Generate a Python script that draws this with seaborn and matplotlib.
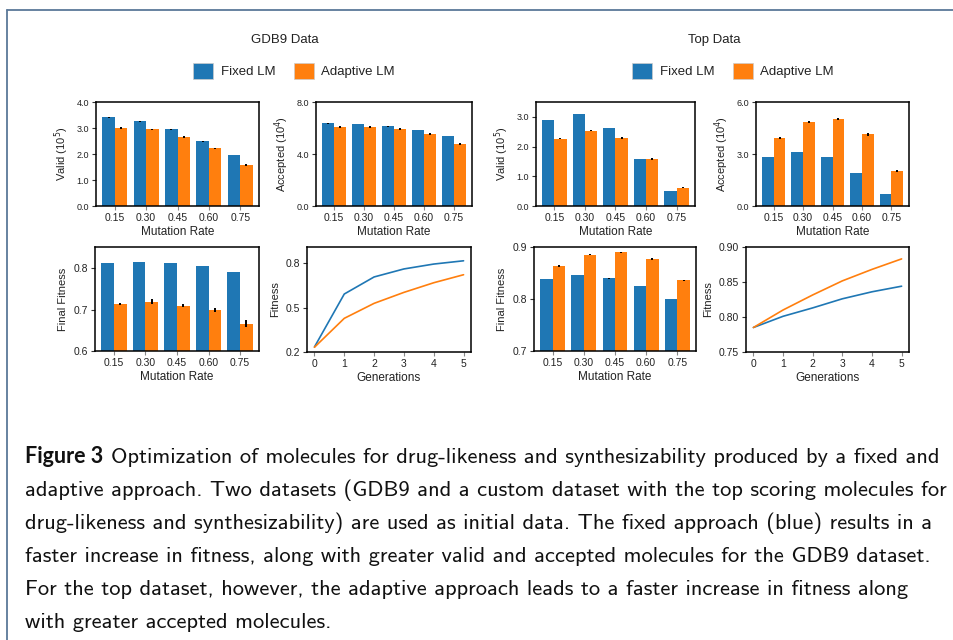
import numpy as np
import pandas as pd
import matplotlib
matplotlib.use("Agg")
import matplotlib.pyplot as plt
import seaborn as sns
from matplotlib.patches import Patch
from matplotlib.lines import Line2D
from matplotlib.ticker import FormatStrFormatter

# ---------------- data ----------------
rates = ["0.15", "0.30", "0.45", "0.60", "0.75"]
models = ["Fixed LM", "Adaptive LM"]
generations = [0, 1, 2, 3, 4, 5]

# GDB9 data
gdb9_valid_fixed = [3.41, 3.26, 2.95, 2.49, 1.955]
gdb9_valid_adapt = [2.99, 2.95, 2.645, 2.22, 1.57]
gdb9_valid_fixed_err = [0.01, 0.01, 0.01, 0.01, 0.01]
gdb9_valid_adapt_err = [0.04, 0.03, 0.03, 0.03, 0.05]

gdb9_acc_fixed = [6.36, 6.29, 6.13, 5.83, 5.37]
gdb9_acc_adapt = [6.06, 6.06, 5.90, 5.55, 4.75]
gdb9_acc_fixed_err = [0.02, 0.02, 0.02, 0.02, 0.02]
gdb9_acc_adapt_err = [0.06, 0.06, 0.07, 0.06, 0.09]

gdb9_final_fixed = [0.813, 0.816, 0.813, 0.806, 0.792]
gdb9_final_adapt = [0.7145, 0.719, 0.710, 0.700, 0.666]
gdb9_final_fixed_err = [0.0005, 0.0005, 0.0005, 0.0005, 0.0005]
gdb9_final_adapt_err = [0.003, 0.006, 0.004, 0.005, 0.009]

gdb9_fit_fixed = [0.234, 0.591, 0.706, 0.760, 0.793, 0.815]
gdb9_fit_adapt = [0.232, 0.427, 0.528, 0.602, 0.667, 0.721]

# Top data
top_valid_fixed = [2.90, 3.10, 2.63, 1.58, 0.506]
top_valid_adapt = [2.26, 2.53, 2.29, 1.58, 0.61]
top_valid_fixed_err = [0.01, 0.01, 0.01, 0.01, 0.01]
top_valid_adapt_err = [0.02, 0.02, 0.03, 0.02, 0.02]

top_acc_fixed = [2.82, 3.105, 2.82, 1.90, 0.69]
top_acc_adapt = [3.91, 4.83, 5.00, 4.14, 2.01]
top_acc_fixed_err = [0.01, 0.01, 0.01, 0.01, 0.01]
top_acc_adapt_err = [0.05, 0.07, 0.05, 0.09, 0.07]

top_final_fixed = [0.838, 0.846, 0.840, 0.825, 0.800]
top_final_adapt = [0.8635, 0.885, 0.890, 0.877, 0.836]
top_final_fixed_err = [0.0004, 0.0004, 0.0008, 0.0004, 0.0004]
top_final_adapt_err = [0.001, 0.001, 0.001, 0.0015, 0.0015]

top_fit_fixed = [0.785, 0.801, 0.813, 0.826, 0.836, 0.844]
top_fit_adapt = [0.785, 0.810, 0.8315, 0.8516, 0.868, 0.883]

caption_lines = [
    "Optimization of molecules for drug-likeness and synthesizability produced by a fixed and",
    "adaptive approach. Two datasets (GDB9 and a custom dataset with the top scoring molecules for",
    "drug-likeness and synthesizability) are used as initial data. The fixed approach (blue) results in a",
    "faster increase in fitness, along with greater valid and accepted molecules for the GDB9 dataset.",
    "For the top dataset, however, the adaptive approach leads to a faster increase in fitness along",
    "with greater accepted molecules.",
]

BLUE = "#1f77b4"
ORANGE = "#ff7f0e"

# ---------------- style ----------------
sns.set_theme(style="white")
plt.rcParams["font.family"] = ["Liberation Sans", "DejaVu Sans"]
plt.rcParams["axes.edgecolor"] = "black"
plt.rcParams["axes.linewidth"] = 1.1

W, H = 954, 640
fig = plt.figure(figsize=(W / 100, H / 100), dpi=100)
fig.patch.set_facecolor("white")


def rect(x0, x1, y0, y1):
    return [x0 / W, 1 - y1 / H, (x1 - x0) / W, (y1 - y0) / H]


def style_ax(ax, ylim, yticks, fmt, ylabel, xlabel, ytick_fs):
    ax.set_ylim(*ylim)
    ax.set_yticks(yticks)
    ax.yaxis.set_major_formatter(FormatStrFormatter(fmt))
    ax.set_ylabel(ylabel, fontsize=8, color="#222222", labelpad=4)
    ax.set_xlabel(xlabel, fontsize=8.5, color="#222222", labelpad=2)
    ax.tick_params(axis="y", labelsize=ytick_fs, length=3, width=0.8,
                   color="#333333", labelcolor="#222222", left=True, pad=2)
    ax.tick_params(axis="x", labelsize=7.5, length=3, width=0.8,
                   color="#888888", labelcolor="#222222", bottom=True, pad=2)
    for s in ax.spines.values():
        s.set_color("black")
        s.set_linewidth(1.1)


def bar_panel(ax, fixed, adapt, ferr, aerr, ylim, yticks, fmt, ylabel, ytick_fs):
    df = pd.DataFrame({
        "rate": rates * 2,
        "model": [models[0]] * len(rates) + [models[1]] * len(rates),
        "value": fixed + adapt,
    })
    sns.barplot(data=df, x="rate", y="value", hue="model", hue_order=models,
                palette=[BLUE, ORANGE], saturation=1, errorbar=None, width=0.8,
                legend=False, linewidth=0, ax=ax)
    for cont, errs in zip(ax.containers, [ferr, aerr]):
        for bar, e in zip(cont, errs):
            xc = bar.get_x() + bar.get_width() / 2
            ax.errorbar(xc, bar.get_height(), yerr=e, color="black",
                        lw=1.4, capsize=0, zorder=5)
    ax.set_xlim(-0.6, 4.6)
    style_ax(ax, ylim, yticks, fmt, ylabel, "Mutation Rate", ytick_fs)


def line_panel(ax, fixed, adapt, ylim, yticks, fmt):
    df = pd.DataFrame({
        "gen": generations * 2,
        "model": [models[0]] * len(generations) + [models[1]] * len(generations),
        "fit": fixed + adapt,
    })
    sns.lineplot(data=df, x="gen", y="fit", hue="model", hue_order=models,
                 palette=[BLUE, ORANGE], legend=False, linewidth=1.2, ax=ax)
    ax.set_xticks(generations)
    style_ax(ax, ylim, yticks, fmt, "Fitness", "Generations", 7.5)


# GDB9 panels
ax1 = fig.add_axes(rect(96, 259, 102, 206))
bar_panel(ax1, gdb9_valid_fixed, gdb9_valid_adapt, gdb9_valid_fixed_err,
          gdb9_valid_adapt_err, (0, 4.0), [0, 1, 2, 3, 4], "%.1f",
          "Valid (10$^5$)", 6.5)
ax2 = fig.add_axes(rect(316, 472, 102, 206))
bar_panel(ax2, gdb9_acc_fixed, gdb9_acc_adapt, gdb9_acc_fixed_err,
          gdb9_acc_adapt_err, (0, 8.0), [0, 4, 8], "%.1f",
          "Accepted (10$^4$)", 6.5)
ax5 = fig.add_axes(rect(95, 259, 247, 351))
bar_panel(ax5, gdb9_final_fixed, gdb9_final_adapt, gdb9_final_fixed_err,
          gdb9_final_adapt_err, (0.6, 0.852), [0.6, 0.7, 0.8], "%.1f",
          "Final Fitness", 7.5)
ax6 = fig.add_axes(rect(307, 471, 247, 352))
line_panel(ax6, gdb9_fit_fixed, gdb9_fit_adapt, (0.2, 0.908), [0.2, 0.5, 0.8], "%.1f")

# Top panels
ax3 = fig.add_axes(rect(536, 695, 102, 206))
bar_panel(ax3, top_valid_fixed, top_valid_adapt, top_valid_fixed_err,
          top_valid_adapt_err, (0, 3.5), [0, 1, 2, 3], "%.1f",
          "Valid (10$^5$)", 6.5)
ax4 = fig.add_axes(rect(756, 909, 102, 206))
bar_panel(ax4, top_acc_fixed, top_acc_adapt, top_acc_fixed_err,
          top_acc_adapt_err, (0, 6.0), [0, 3, 6], "%.1f",
          "Accepted (10$^4$)", 6.5)
ax7 = fig.add_axes(rect(534, 696, 247, 351))
bar_panel(ax7, top_final_fixed, top_final_adapt, top_final_fixed_err,
          top_final_adapt_err, (0.7, 0.9), [0.7, 0.8, 0.9], "%.1f",
          "Final Fitness", 7.5)
ax8 = fig.add_axes(rect(746, 909, 247, 352))
line_panel(ax8, top_fit_fixed, top_fit_adapt, (0.75, 0.90),
           [0.75, 0.80, 0.85, 0.90], "%.2f")

# Titles and legends
for cx, lx, title in [(285, 294, "GDB9 Data"), (714, 733, "Top Data")]:
    fig.text(cx / W, 1 - 40 / H, title, ha="center", va="center",
             fontsize=9.5, color="#222222")
    handles = [Patch(facecolor=BLUE, edgecolor="#cccccc", linewidth=0.5, label=models[0]),
               Patch(facecolor=ORANGE, edgecolor="#cccccc", linewidth=0.5, label=models[1])]
    fig.legend(handles=handles, loc="center", bbox_to_anchor=(lx / W, 1 - 71 / H),
               ncol=2, frameon=False, fontsize=9.5, handlelength=1.5,
               handleheight=1.5, handletextpad=0.6, columnspacing=1.4,
               labelcolor="#222222")

# Border lines
fig.add_artist(Line2D([7.5 / W, 1.0], [1 - 9.5 / H, 1 - 9.5 / H],
                      transform=fig.transFigure, color="#5b7899", lw=1.3))
fig.add_artist(Line2D([7.5 / W, 7.5 / W], [1 - 9.5 / H, 0.0],
                      transform=fig.transFigure, color="#5b7899", lw=1.3))

# Caption
cap_y0 = 463
cap_dy = 33.1
fig.text(25 / W, 1 - cap_y0 / H, "Figure 3", ha="left", va="baseline",
         fontsize=15.5, fontweight="bold", family=["Lato", "DejaVu Sans"],
         color="#111111")
for i, line in enumerate(caption_lines):
    x = 111 if i == 0 else 25
    fig.text(x / W, 1 - (cap_y0 + i * cap_dy) / H, line, ha="left",
             va="baseline", fontsize=16.2, family=["cmss10", "DejaVu Sans"],
             color="#111111")

fig.savefig("out.png", dpi=100, facecolor="white")
